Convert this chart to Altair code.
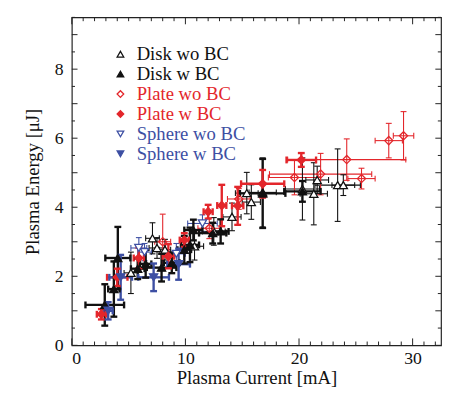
import altair as alt
import pandas as pd

series_names = ["Disk wo BC", "Disk w BC", "Plate wo BC", "Plate w BC", "Sphere wo BC", "Sphere w BC"]
series_colors = ["#111111", "#111111", "#e3262b", "#e3262b", "#3d4fa3", "#3d4fa3"]
series_fills = ["white", "#111111", "rgba(0,0,0,0)", "#e3262b", "white", "#3d4fa3"]
series_shapes = ["triangle-up", "triangle-up", "diamond", "diamond", "triangle-down", "triangle-down"]

# Plasma current [mA], plasma energy [uJ] and their error half-widths
disk_wo_I = [5.2, 7.1, 7.5, 8.2, 10.8, 12.5, 14.1, 15.4, 15.8, 16.8, 20.3, 21.3, 21.6, 23.4, 23.9]
disk_wo_E = [2.10, 3.10, 2.82, 2.77, 2.87, 3.30, 3.72, 4.41, 4.15, 4.43, 4.53, 4.39, 4.79, 4.64, 4.64]
disk_wo_dI = [0.6, 0.6, 0.7, 0.5, 0.8, 1.0, 0.8, 1.0, 0.8, 1.2, 1.5, 1.2, 1.0, 2.0, 1.0]
disk_wo_dE = [0.6, 0.45, 0.3, 0.3, 0.4, 0.4, 0.4, 0.6, 0.5, 1.0, 0.9, 0.9, 0.4, 1.05, 0.3]

disk_w_I = [2.9, 3.7, 4.05, 5.8, 6.5, 7.9, 8.8, 9.9, 10.4, 10.7, 12.4, 13.1, 16.8, 20.3]
disk_w_E = [1.17, 1.63, 2.53, 2.22, 2.36, 2.25, 2.39, 2.77, 2.91, 3.34, 3.25, 3.30, 4.40, 4.46]
disk_w_dI = [1.7, 0.5, 1.1, 0.6, 0.5, 1.3, 0.7, 0.6, 0.8, 0.8, 1.2, 0.7, 2.0, 1.6]
disk_w_dE = [0.6, 0.8, 0.9, 0.3, 0.4, 0.4, 0.3, 0.4, 0.5, 0.3, 0.3, 0.35, 1.0, 0.3]

plate_wo_I = [8.0, 12.1, 14.7, 19.6, 21.9, 24.2, 25.5, 27.9, 29.2]
plate_wo_E = [3.00, 3.39, 4.24, 4.86, 4.96, 5.38, 4.83, 5.93, 6.07]
plate_wo_dI = [0.7, 1.0, 1.0, 2.3, 4.5, 5.2, 1.2, 1.2, 0.9]
plate_wo_dE = [0.8, 0.3, 0.3, 0.5, 0.6, 0.6, 0.3, 0.5, 0.7]

plate_w_I = [2.6, 4.0, 5.9, 8.5, 9.9, 12.0, 13.2, 14.6, 16.8, 20.2]
plate_w_E = [0.90, 1.97, 2.53, 2.58, 3.05, 3.87, 4.05, 4.04, 4.68, 5.37]
plate_w_dI = [0.4, 0.9, 0.45, 0.5, 0.4, 0.4, 0.4, 0.5, 1.9, 1.3]
plate_w_dE = [0.15, 0.25, 0.3, 0.35, 0.2, 0.2, 0.6, 0.55, 0.4, 0.2]

sphere_wo_I = [5.9, 6.4, 9.2, 11.5]
sphere_wo_E = [2.82, 2.70, 2.65, 3.53]
sphere_wo_dI = [0.7, 0.6, 0.8, 1.3]
sphere_wo_dE = [0.3, 0.25, 0.3, 0.25]

sphere_w_I = [3.2, 4.3, 7.2, 9.4]
sphere_w_E = [1.00, 1.97, 1.97, 2.35]
sphere_w_dI = [0.4, 1.0, 1.35, 1.0]
sphere_w_dE = [0.25, 0.65, 0.4, 0.45]

x_label_values = [0, 10, 20, 30]
y_label_values = [0, 2, 4, 6, 8]
x_major_ticks = [0, 10, 20, 30]
x_minor_ticks = [v for v in range(0, 33) if v % 10 != 0]
y_major_ticks = [0, 1, 2, 3, 4, 5, 6, 7, 8, 9]
y_minor_ticks = [0.5, 1.5, 2.5, 3.5, 4.5, 5.5, 6.5, 7.5, 8.5, 9.5]

X_MAX, Y_MAX = 32.5, 9.5

series_data = [
    (disk_wo_I, disk_wo_E, disk_wo_dI, disk_wo_dE),
    (disk_w_I, disk_w_E, disk_w_dI, disk_w_dE),
    (plate_wo_I, plate_wo_E, plate_wo_dI, plate_wo_dE),
    (plate_w_I, plate_w_E, plate_w_dI, plate_w_dE),
    (sphere_wo_I, sphere_wo_E, sphere_wo_dI, sphere_wo_dE),
    (sphere_w_I, sphere_w_E, sphere_w_dI, sphere_w_dE),
]

rows = []
for name, col, (Is, Es, dIs, dEs) in zip(series_names, series_colors, series_data):
    thick = " w BC" in name
    for i, e, di, de in zip(Is, Es, dIs, dEs):
        rows.append(dict(series=name, I=i, E=e, xlo=i - di, xhi=i + di,
                         ylo=e - de, yhi=e + de, col=col, thick=thick))
df = pd.DataFrame(rows)

FONT = "Liberation Serif"
xscale = alt.Scale(domain=[0, X_MAX], nice=False, zero=False)
yscale = alt.Scale(domain=[0, Y_MAX], nice=False, zero=False)
xaxis = alt.Axis(values=x_label_values, title="Plasma Current [mA]", labelPadding=5, titlePadding=1)
yaxis = alt.Axis(values=y_label_values, title="Plasma Energy [μJ]", labelPadding=9, titlePadding=12)


def X(f):
    return alt.X(f, type="quantitative", scale=xscale, axis=xaxis)


def Y(f):
    return alt.Y(f, type="quantitative", scale=yscale, axis=yaxis)


colr = alt.Color("col:N", scale=None)

layers = []
for thick, sw, cap in [(False, 1.1, 6), (True, 2.4, 7)]:
    sub = alt.Chart(df).transform_filter(alt.datum.thick == thick)
    layers.append(sub.mark_rule(strokeWidth=sw).encode(x=X("xlo"), x2="xhi", y=Y("E"), color=colr))
    layers.append(sub.mark_rule(strokeWidth=sw).encode(x=X("I"), y=Y("ylo"), y2="yhi", color=colr))
    for f in ["xlo", "xhi"]:
        layers.append(sub.mark_tick(orient="vertical", size=cap, thickness=sw, opacity=1)
                      .encode(x=X(f), y=Y("E"), color=colr))
    for f in ["ylo", "yhi"]:
        layers.append(sub.mark_tick(orient="horizontal", size=cap, thickness=sw, opacity=1)
                      .encode(x=X("I"), y=Y(f), color=colr))

legend = alt.Legend(
    title=None, orient="none", legendX=40, legendY=28, padding=0,
    labelFont=FONT, labelFontSize=19, symbolSize=45, symbolStrokeWidth=1.3,
    labelOffset=7, rowPadding=0.3,
    labelColor={"expr": "indexof(datum.label, 'Plate') >= 0 ? '#e3262b' : "
                        "(indexof(datum.label, 'Sphere') >= 0 ? '#3d4fa3' : '#111111')"},
)

points = alt.Chart(df).mark_point(filled=False, size=70, strokeWidth=1.3, opacity=1, fillOpacity=1).encode(
    x=X("I"), y=Y("E"),
    shape=alt.Shape("series:N", scale=alt.Scale(domain=series_names, range=series_shapes), legend=legend),
    color=alt.Color("series:N", scale=alt.Scale(domain=series_names, range=series_colors), legend=legend),
    fill=alt.Fill("series:N", scale=alt.Scale(domain=series_names, range=series_fills), legend=legend),
)

# axis ticks (pointing inward) drawn through the scales
tick_rows = []
for v in x_major_ticks:
    tick_rows.append(dict(xa=v, xb=v, ya=0, yb=0.2))
    tick_rows.append(dict(xa=v, xb=v, ya=Y_MAX, yb=Y_MAX - 0.2))
for v in x_minor_ticks:
    tick_rows.append(dict(xa=v, xb=v, ya=0, yb=0.11))
    tick_rows.append(dict(xa=v, xb=v, ya=Y_MAX, yb=Y_MAX - 0.11))
for v in y_major_ticks:
    tick_rows.append(dict(xa=0, xb=0.5, ya=v, yb=v))
    tick_rows.append(dict(xa=X_MAX, xb=X_MAX - 0.5, ya=v, yb=v))
for v in y_minor_ticks:
    tick_rows.append(dict(xa=0, xb=0.28, ya=v, yb=v))
    tick_rows.append(dict(xa=X_MAX, xb=X_MAX - 0.28, ya=v, yb=v))
ticks = alt.Chart(pd.DataFrame(tick_rows)).mark_rule(color="#222222", strokeWidth=1).encode(
    x=X("xa"), x2="xb", y=Y("ya"), y2="yb")

chart = alt.layer(ticks, *layers, points).properties(
    width=376, height=334,
    padding={"left": 65, "top": 6, "right": 1, "bottom": 45},
    autosize=alt.AutoSizeParams(type="none"),
).configure_view(stroke="#222222", strokeWidth=1.2).configure_axis(
    grid=False, ticks=False, domain=False,
    labelFont=FONT, labelFontSize=18, labelColor="#111111",
    titleFont=FONT, titleFontSize=19, titleFontWeight="normal", titleColor="#111111",
)

chart.save("out.html", embed_options={"renderer": "svg", "actions": False})
